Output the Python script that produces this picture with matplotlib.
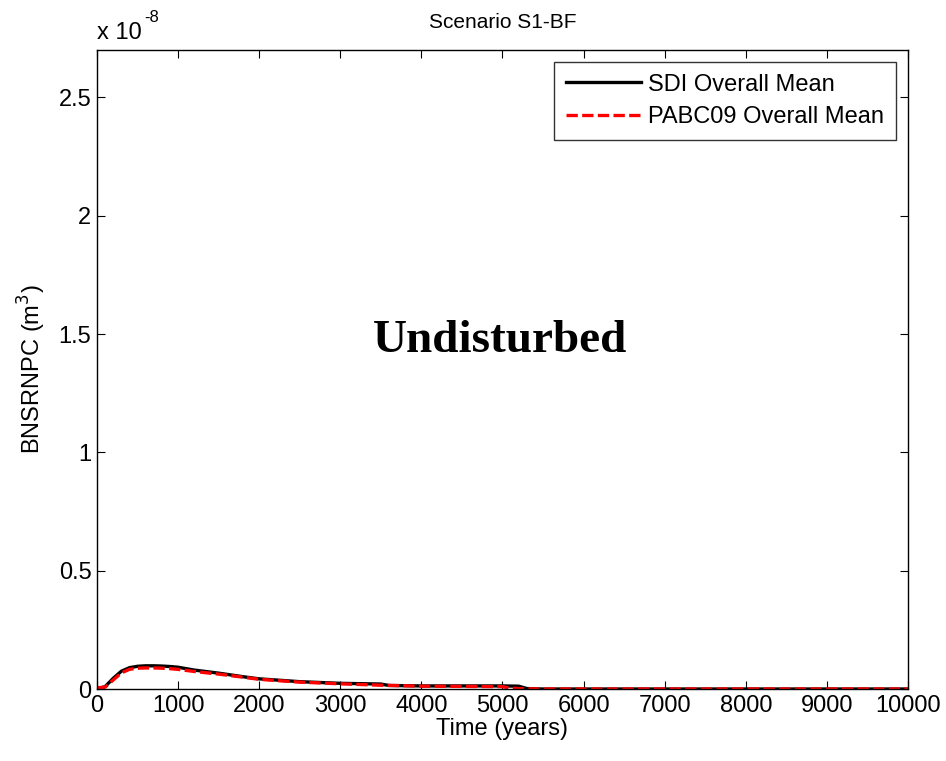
import matplotlib
matplotlib.use("Agg")
import matplotlib.pyplot as plt

plt.rcParams['font.family'] = ['Liberation Sans', 'DejaVu Sans']

# Data (values in units of 1e-8 m^3)
time_sdi = [0, 100, 200, 300, 400, 500, 600, 700, 800, 900, 1000, 1200, 1500, 1800, 2000, 2500, 3000, 3500, 3600, 4000, 4500, 5000, 5200, 5300, 5500, 6000, 7000, 8000, 9000, 10000]
sdi_mean = [0.0, 0.01, 0.045, 0.075, 0.090, 0.096, 0.098, 0.098, 0.097, 0.095, 0.092, 0.080, 0.067, 0.052, 0.043, 0.031, 0.024, 0.021, 0.015, 0.013, 0.013, 0.013, 0.012, 0.002, 0.0, 0.0, 0.0, 0.0, 0.0, 0.0]

time_pabc = [0, 100, 200, 300, 400, 500, 600, 700, 800, 900, 1000, 1200, 1500, 1800, 2000, 2500, 3000, 3500, 4000, 4500, 5000, 5100, 5300, 5500, 6000, 7000, 8000, 9000, 10000]
pabc_mean = [0.005, 0.008, 0.038, 0.068, 0.083, 0.088, 0.089, 0.089, 0.088, 0.086, 0.083, 0.074, 0.063, 0.050, 0.041, 0.029, 0.022, 0.016, 0.012, 0.011, 0.010, 0.003, 0.001, 0.0, 0.0, 0.0, 0.0, 0.0, 0.0]

x_ticks = [0, 1000, 2000, 3000, 4000, 5000, 6000, 7000, 8000, 9000, 10000]
y_ticks = [0, 0.5, 1, 1.5, 2, 2.5]
y_tick_labels = ['0', '0.5', '1', '1.5', '2', '2.5']

fig = plt.figure(figsize=(9.46, 7.61), dpi=100)
ax = fig.add_axes([0.1025, 0.0946, 0.8573, 0.8397])

ax.plot(time_sdi, sdi_mean, color='black', lw=2.4, label='SDI Overall Mean')
ax.plot(time_pabc, pabc_mean, color='red', lw=2.4, ls=(0, (3.4, 1.3)), label='PABC09 Overall Mean')

ax.set_xlim(0, 10000)
ax.set_ylim(0, 2.7)
ax.set_xticks(x_ticks)
ax.set_xticklabels([str(t) for t in x_ticks])
ax.set_yticks(y_ticks)
ax.set_yticklabels(y_tick_labels)
ax.tick_params(direction='in', top=True, right=True, labelsize=17, length=6, width=0.8, pad=4)
for s in ax.spines.values():
    s.set_linewidth(1.0)

ax.set_xlabel('Time (years)', fontsize=17, labelpad=1)
ax.set_ylabel('BNSRNPC (m$^3$)', fontsize=17, labelpad=8)
ax.set_title('Scenario S1-BF', fontsize=15, pad=16)

fig.text(0.1025, 0.9425, 'x 10', fontsize=17, ha='left', va='bottom')
fig.text(0.1525, 0.967, '-8', fontsize=12, ha='left', va='bottom')

ax.text(4969, 1.47, 'Undisturbed', fontsize=34, fontweight='bold',
        family=['Liberation Serif', 'DejaVu Serif'], ha='center', va='center')

leg = ax.legend(loc='upper right', fontsize=17, frameon=True, fancybox=False,
                edgecolor='black', handlelength=3.2, handletextpad=0.3,
                borderaxespad=0.5, labelspacing=0.45, borderpad=0.5)
leg.get_frame().set_linewidth(1.0)

fig.savefig('out.png', dpi=100)
